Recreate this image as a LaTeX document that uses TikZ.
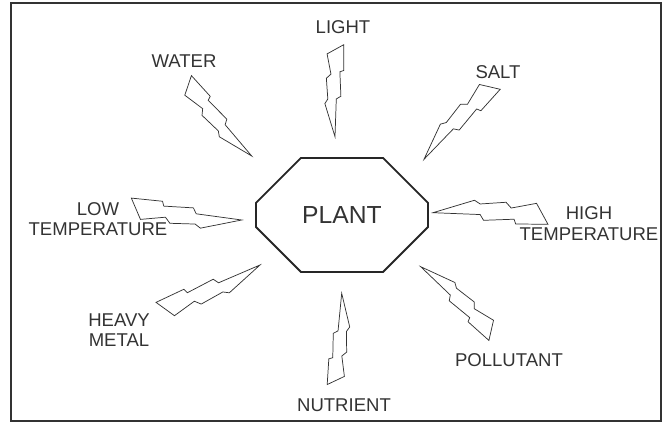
\documentclass[tikz,border=0pt]{standalone}
\usepackage{fontspec}
\setmainfont{Liberation Sans}
\usetikzlibrary{shapes.misc}
\colorlet{InkGray}{black!80}
\tikzset{
  boltline/.style={draw=InkGray,line width=0.55pt,line join=miter},
  bolt/.pic={\draw[boltline] (100,-9.5) -- (72,-9.5) -- (70.5,-5.3) -- (44,-6.4) -- (41,-1.4) -- (0,0)
      -- (36,11) -- (41,7.8) -- (63.5,9.4) -- (68,4.4) -- (90,8.6) -- cycle;}
}

\begin{document}
\begin{tikzpicture}[x=0.75pt,y=0.75pt,
    stress/.style={text=InkGray,font=\fontsize{13.9}{15.5}\selectfont,align=center,inner sep=0pt},
    plantbox/.style={chamfered rectangle,chamfered rectangle xsep=30pt,chamfered rectangle ysep=24pt,
      minimum width=129pt,minimum height=85.5pt,draw=black!85,line width=1.4pt,text=InkGray,
      font=\fontsize{18.5}{20}\selectfont},
    frameline/.style={draw=black!80,line width=1.2pt}
  ]
  \useasboundingbox (0,0) rectangle (662,-423);
  \draw[frameline] (11,-3) rectangle (661,-421);
  % the plant in the middle
  \node[plantbox] (plant) at (342,-215) {PLANT};
  % stresses
  \node[stress] (light) at (343,-27) {LIGHT};
  \node[stress] (water) at (184,-61) {WATER};
  \node[stress] (salt) at (498,-72) {SALT};
  \node[stress] (lowtemp) at (98,-219) {LOW\\TEMPERATURE};
  \node[stress] (hightemp) at (589,-223.5) {HIGH\\TEMPERATURE};
  \node[stress] (heavymetal) at (119,-330) {HEAVY\\METAL};
  \node[stress] (nutrient) at (344,-405) {NUTRIENT};
  \node[stress] (pollutant) at (509,-360) {POLLUTANT};
  % bolts, tip towards the plant
  \pic[rotate=132.3,scale=1.00] at (251.7,-156) {bolt};
  \pic[rotate=90,scale=0.92] at (335,-136.7) {bolt};
  \pic[rotate=48,scale=1.03] at (424,-159.3) {bolt};
  \pic[rotate=-0.3,scale=1.15] at (433,-212.7) {bolt};
  \pic[rotate=174.2,scale=1.12] at (241.7,-220) {bolt};
  \pic[rotate=205.2,scale=1.10] at (260,-265) {bolt};
  \pic[rotate=266.4,scale=0.92] at (341.7,-293.3) {bolt};
  \pic[rotate=-41.8,scale=1.00] at (420.7,-266.7) {bolt};
\end{tikzpicture}
\end{document}
